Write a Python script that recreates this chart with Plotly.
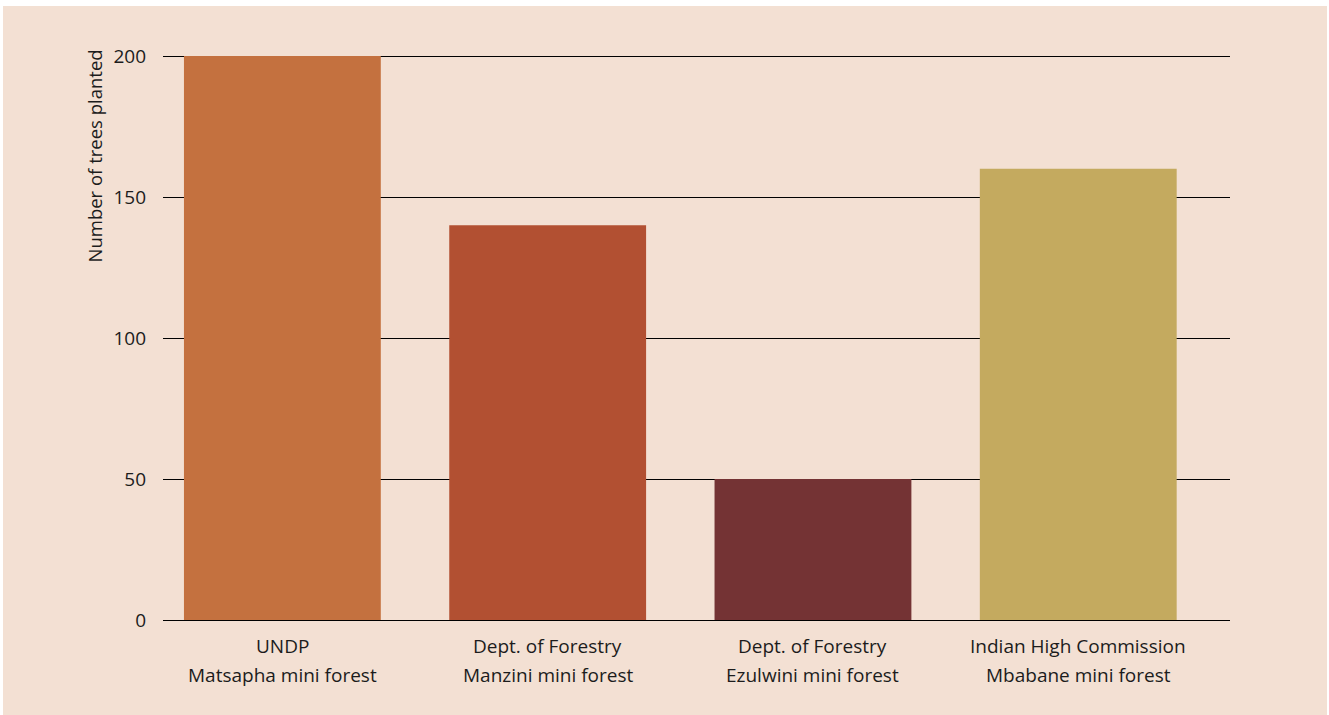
import plotly.graph_objects as go

line1 = ["UNDP", "Dept. of Forestry", "Dept. of Forestry", "Indian High Commission"]
line2 = ["Matsapha mini forest", "Manzini mini forest", "Ezulwini mini forest", "Mbabane mini forest"]
categories = [a + " " + b for a, b in zip(line1, line2)]
trees = [200, 140, 50, 160]
colors = ["#c4713f", "#b25032", "#743334", "#c4aa5f"]
yticks = [0, 50, 100, 150, 200]

BG = "#f3e0d3"
TXT = "#1c1c1c"
FONT = "Open Sans"

W, H = 1329, 715
L, R, T, B = 163, 99, 52, 95
pw, ph = W - L - R, H - T - B

def px_x(x):
    return (x - L) / pw

def px_y(y):
    return (H - B - y) / ph

fig = go.Figure()
fig.add_trace(go.Bar(
    x=categories, y=trees, marker=dict(color=colors, line=dict(width=0)),
    width=0.742, hoverinfo="x+y",
))

annotations = []
for c, a, b in zip(categories, line1, line2):
    annotations.append(dict(x=c, xref="x", y=0, yref="paper", text=a, showarrow=False,
                            xanchor="center", yanchor="middle", yshift=-26,
                            font=dict(family=FONT, size=19, color=TXT)))
    annotations.append(dict(x=c, xref="x", y=0, yref="paper", text=b, showarrow=False,
                            xanchor="center", yanchor="middle", yshift=-55,
                            font=dict(family=FONT, size=19, color=TXT)))
annotations.append(dict(x=px_x(94), xref="paper", y=px_y(48), yref="paper",
                        text="Number of trees planted", textangle=-90, showarrow=False,
                        xanchor="center", yanchor="top",
                        font=dict(family=FONT, size=18.5, color=TXT)))

fig.update_layout(
    width=W, height=H,
    margin=dict(l=L, r=R, t=T, b=B, pad=0),
    paper_bgcolor="white",
    plot_bgcolor="rgba(0,0,0,0)",
    showlegend=False,
    font=dict(family=FONT, color=TXT),
    xaxis=dict(range=[-0.45, 3.572], showticklabels=False, showgrid=False,
               zeroline=False, showline=False, ticks="", fixedrange=True),
    yaxis=dict(range=[0, 201.42], tickvals=yticks, showgrid=True, gridcolor="#000000",
               gridwidth=1.3, zeroline=True, zerolinecolor="#000000", zerolinewidth=1.3,
               showline=False, ticks="", ticklabelstandoff=16,
               tickfont=dict(family=FONT, size=19, color=TXT), fixedrange=True),
    annotations=annotations,
    shapes=[dict(type="rect", xref="paper", yref="paper", layer="below",
                 x0=px_x(3), x1=px_x(1327), y0=px_y(720), y1=px_y(6),
                 fillcolor=BG, line=dict(width=0))],
    bargap=0.26,
)

fig.write_html("out.html", config={"displayModeBar": False},
               post_script="document.body.style.margin='0';document.body.style.overflow='hidden';")
